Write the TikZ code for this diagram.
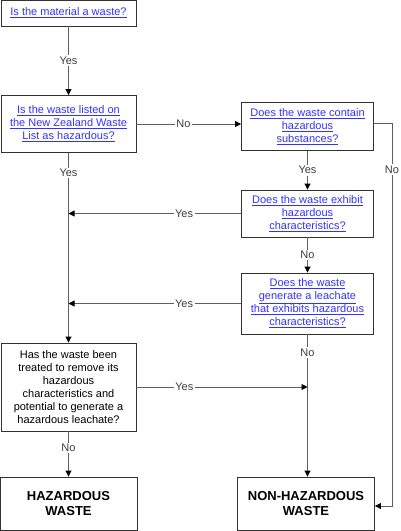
\documentclass[tikz,border=0pt]{standalone}
\usepackage{fontspec}
\setmainfont{Liberation Sans}
\usepackage{tikz}
\usetikzlibrary{arrows.meta}
\definecolor{linkcol}{RGB}{50,50,255}
\definecolor{boxcol}{RGB}{50,50,50}
\definecolor{wirecol}{RGB}{95,95,95}
\definecolor{labcol}{RGB}{60,60,60}
\tikzstyle{qbox}=[draw=boxcol,line width=0.9pt,inner sep=0pt,align=center,font=\fontsize{11}{13}\selectfont]
\tikzstyle{endbox}=[qbox,font=\fontsize{13}{15}\selectfont\bfseries]
\tikzstyle{wire}=[draw=wirecol,line width=0.9pt,-{Triangle[length=6pt,width=6pt,color=black]}]
\tikzstyle{lab}=[fill=white,text=labcol,inner sep=1.5pt,font=\fontsize{11}{13}\selectfont]
\newcommand{\lnk}[1]{\textcolor{linkcol}{\underline{#1}}}
\newcommand{\qnode}{\node[qbox]}
\newcommand{\termnode}{\node[endbox]}
\begin{document}
\begin{tikzpicture}[x=1pt,y=-1pt]
        \useasboundingbox (0,0) rectangle (400,531);
        \qnode[minimum width=135,minimum height=26] (waste) at (68.5,13) {\lnk{Is the material a waste?}}; %
        \qnode[minimum width=135,minimum height=57] (listed) at (68.5,124) {\lnk{Is the waste listed on}\\\lnk{the New Zealand Waste}\\\lnk{List as hazardous?}}; %
        \qnode[minimum width=132,minimum height=48] (contain) at (307.5,126.5) {\lnk{Does the waste contain}\\\lnk{hazardous}\\\lnk{substances?}}; %
        \qnode[minimum width=132,minimum height=47] (exhibit) at (307.5,213.5) {\lnk{Does the waste exhibit}\\\lnk{hazardous}\\\lnk{characteristics?}}; %
        \qnode[minimum width=132,minimum height=61] (leach) at (307.5,303.5) {\lnk{Does the waste}\\\lnk{generate a leachate}\\\lnk{that exhibits hazardous}\\\lnk{characteristics?}}; %
        \qnode[minimum width=135,minimum height=88] (treated) at (68.5,387) {Has the waste been\\treated to remove its\\hazardous\\characteristics and\\potential to generate a\\hazardous leachate?}; %
        \termnode[minimum width=137,minimum height=53] (haz) at (68.5,503.5) {HAZARDOUS\\WASTE}; %
        \termnode[minimum width=137,minimum height=53] (nonhaz) at (306,503.5) {NON-HAZARDOUS\\WASTE}; %
        \coordinate (bend) at (392,506);
        \draw[wire] (waste) -- node[lab]{Yes} (listed);
        \draw[wire] (listed.east) -- node[lab,pos=0.45]{No} (listed.east -| contain.west);
        \draw[wire] (contain) -- node[lab]{Yes} (exhibit);
        \draw[wire] (exhibit) -- node[lab]{No} (leach);
        \draw[wire] (listed) -- node[lab,pos=0.105]{Yes} (treated);
        \draw[wire] (exhibit.west) -- node[lab,pos=0.33]{Yes} (exhibit.west -| listed.south);
        \draw[wire] (leach.west) -- node[lab,pos=0.33]{Yes} (leach.west -| listed.south);
        \draw[wire] (treated.east) -- node[lab,pos=0.28]{Yes} (treated.east -| leach.south);
        \draw[wire] (leach.south) -- node[lab,pos=0.126]{No} (leach.south |- nonhaz.north);
        \draw[wire] (treated) -- node[lab,pos=0.37]{No} (haz);
        \draw[wire] ([yshift=3pt]contain.east) -- ([yshift=3pt]contain.east -| bend) -- node[lab,pos=0.12]{No} (bend) -- (bend -| nonhaz.east);
      \end{tikzpicture}
\end{document}
